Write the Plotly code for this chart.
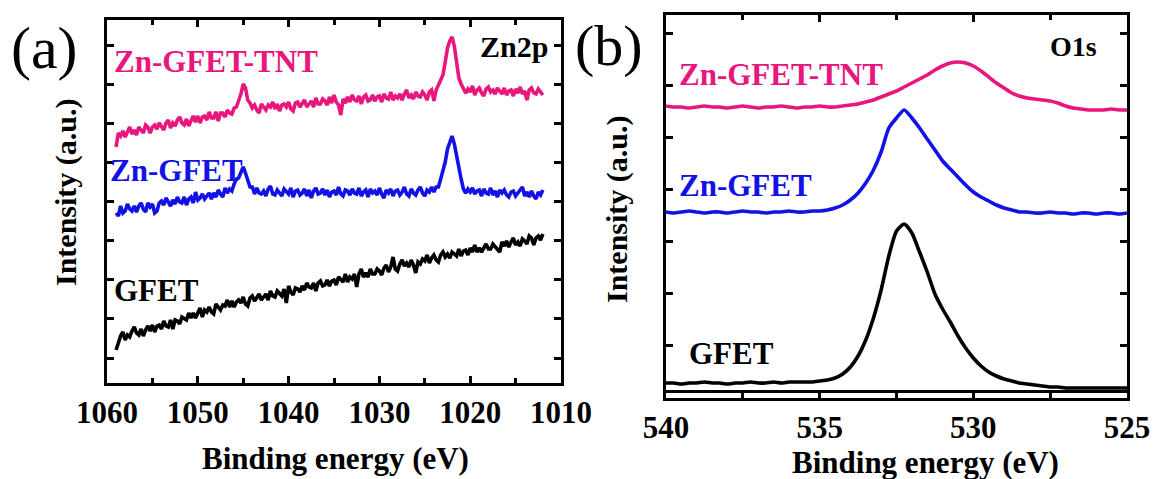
import numpy as np
import plotly.graph_objects as go

W, H = 1154, 479

# ---------------- Panel (a): Zn2p ----------------
# binding energy grid (eV), 0.25 eV step from 1059.0 down to 1012.0
zn_energy = np.round(np.arange(1059.0, 1011.9, -0.25), 2)

zn_gfet_tnt = [
    236, 250, 247, 252, 246, 252, 256, 249, 253, 248,
    256, 253, 250, 258, 256, 250, 256, 258, 254, 260,
    256, 253, 260, 263, 255, 260, 257, 263, 266, 260,
    258, 264, 257, 262, 267, 261, 267, 260, 266, 267,
    263, 271, 265, 265, 271, 262, 270, 270, 266, 273,
    270, 269, 275, 276, 283, 289, 299, 295, 283, 280,
    275, 278, 273, 270, 279, 276, 273, 278, 276, 281,
    274, 279, 272, 278, 279, 276, 281, 274, 272, 280,
    281, 276, 280, 283, 276, 279, 282, 276, 285, 279,
    279, 284, 282, 278, 286, 280, 288, 281, 278, 268,
    284, 280, 286, 281, 288, 283, 282, 287, 279, 286,
    288, 282, 283, 288, 282, 286, 287, 281, 289, 285,
    284, 291, 283, 287, 285, 289, 283, 289, 293, 285,
    288, 284, 291, 287, 286, 291, 288, 283, 291, 293,
    282, 293, 298, 301, 308, 321, 335, 342, 346, 337,
    323, 305, 299, 294, 290, 294, 291, 297, 288, 293,
    295, 290, 287, 294, 296, 291, 293, 289, 295, 292,
    289, 295, 288, 292, 293, 287, 294, 290, 296, 289,
    292, 283, 293, 295, 290, 289, 294, 291, 288,
]

zn_gfet = [
    170, 167, 177, 170, 172, 179, 174, 172, 177, 171,
    177, 180, 174, 171, 180, 176, 179, 170, 172, 180,
    182, 178, 185, 181, 177, 183, 179, 186, 181, 180,
    186, 178, 184, 186, 180, 191, 183, 185, 189, 184,
    187, 190, 184, 190, 186, 193, 189, 186, 195, 190,
    194, 192, 199, 204, 205, 211, 216, 210, 204, 196,
    196, 189, 195, 190, 189, 192, 187, 194, 197, 189,
    188, 193, 190, 187, 194, 191, 189, 195, 186, 192,
    193, 188, 190, 194, 187, 193, 185, 192, 195, 189,
    190, 194, 188, 193, 186, 191, 192, 188, 196, 189,
    187, 193, 192, 188, 194, 190, 189, 195, 187, 191,
    193, 186, 194, 190, 192, 188, 195, 189, 185, 193,
    190, 194, 187, 192, 193, 188, 191, 196, 189, 187,
    194, 190, 188, 193, 196, 190, 187, 193, 191, 196,
    191, 196, 196, 204, 213, 221, 234, 241, 247, 239,
    226, 215, 204, 194, 190, 194, 191, 195, 189, 192,
    193, 187, 194, 190, 189, 195, 188, 192, 186, 193,
    190, 193, 188, 186, 191, 192, 187, 190, 193, 196,
    187, 191, 186, 192, 187, 184, 191, 188, 193,
]

gfet_zn = [
    33, 40, 47, 51, 43, 48, 46, 52, 56, 50,
    48, 54, 47, 53, 57, 52, 58, 51, 57, 58,
    54, 62, 57, 56, 63, 54, 63, 62, 59, 66,
    64, 63, 70, 65, 70, 65, 70, 75, 66, 73,
    71, 76, 71, 69, 79, 76, 73, 78, 77, 83,
    76, 82, 76, 81, 83, 80, 86, 79, 77, 85,
    87, 82, 86, 89, 83, 86, 89, 83, 92, 87,
    86, 92, 90, 87, 94, 80, 97, 91, 88, 95,
    94, 91, 97, 93, 100, 96, 95, 100, 92, 100,
    102, 97, 98, 103, 97, 102, 103, 98, 106, 103,
    101, 109, 101, 106, 104, 109, 96, 109, 114, 106,
    110, 106, 114, 109, 109, 114, 112, 108, 115, 118,
    111, 116, 126, 114, 112, 119, 123, 117, 120, 116,
    123, 118, 110, 121, 119, 124, 122, 128, 120, 125,
    128, 123, 121, 128, 131, 126, 129, 125, 131, 129,
    127, 134, 127, 132, 133, 128, 135, 131, 138, 131,
    135, 131, 136, 139, 134, 134, 139, 136, 134, 131,
    141, 137, 142, 136, 141, 145, 138, 141, 137, 144,
    142, 139, 147, 145, 138, 145, 147, 143, 149,
]

# ---------------- Panel (b): O1s ----------------
o_energy = np.round(np.arange(540.0, 524.9, -0.25), 2)

o_gfet_tnt = [
    285, 284, 284, 283, 284, 285, 284, 284, 283, 284,
    285, 284, 283, 284, 284, 285, 284, 283, 284, 284,
    285, 284, 284, 285, 286, 287, 289, 291, 294, 297,
    300, 304, 308, 312, 316, 321, 325, 328, 329, 328,
    325, 320, 314, 308, 303, 298, 295, 293, 292, 291,
    290, 288, 285, 283, 282, 281, 281, 281, 282, 281,
    281,
]

o_gfet = [
    179, 178, 179, 180, 179, 178, 179, 179, 178, 179,
    180, 179, 179, 178, 179, 179, 180, 179, 179, 180,
    180, 181, 183, 186, 191, 198, 208, 221, 239, 263,
    273, 281, 273, 263, 252, 241, 230, 222, 214, 206,
    199, 194, 190, 186, 183, 181, 179, 179, 178, 178,
    179, 178, 178, 177, 178, 178, 177, 178, 178, 177,
    178,
]

o_gfet_ref = [
    8, 8, 7, 8, 8, 9, 8, 8, 7, 8,
    8, 9, 8, 8, 9, 8, 9, 9, 9, 9,
    10, 11, 13, 17, 24, 35, 51, 73, 101, 135,
    160, 167, 158, 139, 119, 97, 82, 69, 55, 43,
    33, 25, 19, 15, 12, 10, 8, 7, 6, 5,
    4, 4, 3, 3, 3, 3, 3, 3, 3, 3,
    3,
]

PINK = "#E8167D"
BLUE = "#1212E6"
BLACK = "#000000"
FONT = "Liberation Serif"


def px_x(p):
    return p / W


def px_y(p):
    return 1 - p / H


fig = go.Figure()

for y, c in [(zn_gfet_tnt, PINK), (zn_gfet, BLUE), (gfet_zn, BLACK)]:
    fig.add_trace(go.Scatter(x=zn_energy, y=y, mode="lines",
                             line=dict(color=c, width=3.6),
                             xaxis="x", yaxis="y", showlegend=False))

for y, c in [(o_gfet_tnt, PINK), (o_gfet, BLUE), (o_gfet_ref, BLACK)]:
    fig.add_trace(go.Scatter(x=o_energy, y=y, mode="lines",
                             line=dict(color=c, width=3.6, shape="spline", smoothing=0.6),
                             xaxis="x2", yaxis="y2", showlegend=False))

common = dict(showline=True, linecolor="black", linewidth=3, mirror="ticks",
              ticks="inside", tickcolor="black", tickwidth=2.5, ticklen=7,
              showgrid=False, zeroline=False, automargin=False)
tickfont = dict(family=FONT, size=31, color="black", weight="bold")

fig.update_layout(
    template="none",
    width=W, height=H, autosize=False,
    margin=dict(l=0, r=0, t=0, b=0, pad=0, autoexpand=False),
    paper_bgcolor="white", plot_bgcolor="white",
    xaxis=dict(domain=[px_x(107), px_x(561)], range=[1060, 1010],
               tick0=1010, dtick=10, tickfont=tickfont,
               minor=dict(ticks="inside", dtick=5, ticklen=5, tickwidth=2.5, tickcolor="black"),
               anchor="y", **common),
    yaxis=dict(domain=[px_y(383), px_y(20)], range=[0, 363],
               tick0=25, dtick=39.1, showticklabels=False, anchor="x", **common),
    xaxis2=dict(domain=[px_x(666), px_x(1127)], range=[540, 525],
                tick0=525, dtick=5, tickfont=tickfont,
                minor=dict(ticks="inside", dtick=2.5, ticklen=5, tickwidth=2.5, tickcolor="black"),
                anchor="y2", **common),
    yaxis2=dict(domain=[px_y(398), px_y(15)], range=[-7, 376],
                tick0=-6, dtick=52, showticklabels=False, anchor="x2", **common),
)
fig.update_layout(yaxis2=dict(zeroline=True, zerolinecolor="black", zerolinewidth=2.5))

ann = [
    ("(a)", 44, 48, 60, BLACK, "normal", 0),
    ("(b)", 609, 45, 58, BLACK, "normal", 0),
    ("Zn2p", 514, 46, 30, BLACK, "bold", 0),
    ("O1s", 1073, 46, 28, BLACK, "bold", 0),
    ("Zn-GFET-TNT", 216, 62, 31, PINK, "bold", 0),
    ("Zn-GFET", 176, 170, 31, BLUE, "bold", 0),
    ("GFET", 156, 290, 31, BLACK, "bold", 0),
    ("Zn-GFET-TNT", 781, 74, 31, PINK, "bold", 0),
    ("Zn-GFET", 745, 185, 31, BLUE, "bold", 0),
    ("GFET", 731, 353, 31, BLACK, "bold", 0),
    ("Binding energy (eV)", 335, 458, 31, BLACK, "bold", 0),
    ("Binding energy (eV)", 925, 462, 31, BLACK, "bold", 0),
    ("Intensity (a.u.)", 66, 192, 30, BLACK, "bold", -90),
    ("Intensity (a.u.)", 617, 209, 30, BLACK, "bold", -90),
]
for text, x, y, size, color, weight, angle in ann:
    fig.add_annotation(text=text, x=px_x(x), y=px_y(y), xref="paper", yref="paper",
                       xanchor="center", yanchor="middle", showarrow=False,
                       textangle=angle,
                       font=dict(family=FONT, size=size, color=color, weight=weight))

fig.write_html("out.html", config={"displayModeBar": False},
               post_script="document.body.style.margin='0';")
